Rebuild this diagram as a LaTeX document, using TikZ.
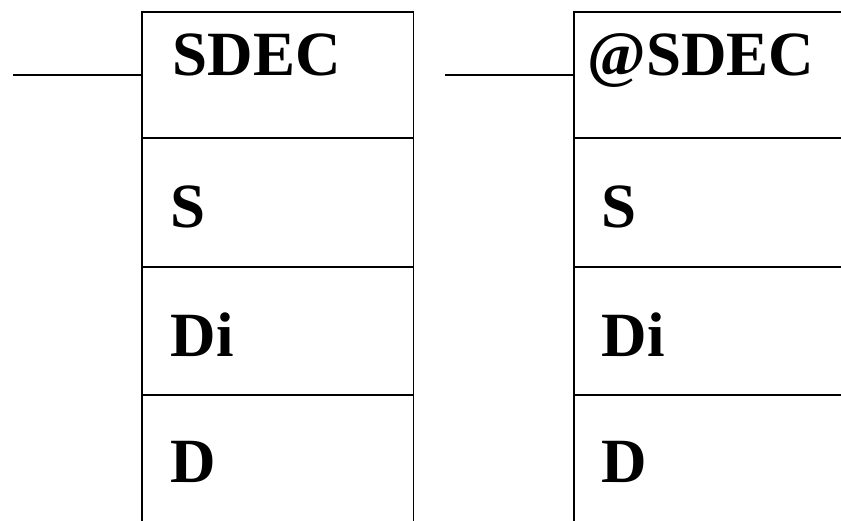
\documentclass[tikz,border=0pt]{standalone}
\usepackage{fontspec}
\setmainfont{Liberation Serif}
\begin{document}
\begin{tikzpicture}[x=1pt,y=-1pt,line width=1.6pt,
  lbl/.style={anchor=base west,inner sep=0pt,font=\fontsize{63}{63}\selectfont\bfseries},
  boxframe/.style={draw,anchor=north west,inner sep=0pt,minimum height=560pt}]
\useasboundingbox (0,0) rectangle (841,520);
% boxes
\node[boxframe,minimum width=271.5pt] (boxA) at (141,11) {};
\node[boxframe,minimum width=300pt] (boxB) at (573,11) {};
% row dividers
\foreach \yy in {138,267,395}{
  \draw (boxA.west |- 0,\yy) -- (boxA.east |- 0,\yy);
  \draw (boxB.west |- 0,\yy) -- (boxB.east |- 0,\yy);
}
% input lines
\coordinate (inA) at (13,75);
\coordinate (inB) at (445,75);
\draw (inA) -- (inA -| boxA.west);
\draw (inB) -- (inB -| boxB.west);
% labels left
\node[lbl] (a0) at (172,75) {SDEC};
\node[lbl] (a1) at (170,227) {S};
\node[lbl] (a2) at (170,356) {Di};
\node[lbl] (a3) at (170,482) {D};
% labels right
\node[lbl] (b0) at (587,75) {@SDEC};
\node[lbl] (b1) at (601,227) {S};
\node[lbl] (b2) at (601,356) {Di};
\node[lbl] (b3) at (601,482) {D};
\end{tikzpicture}
\end{document}
